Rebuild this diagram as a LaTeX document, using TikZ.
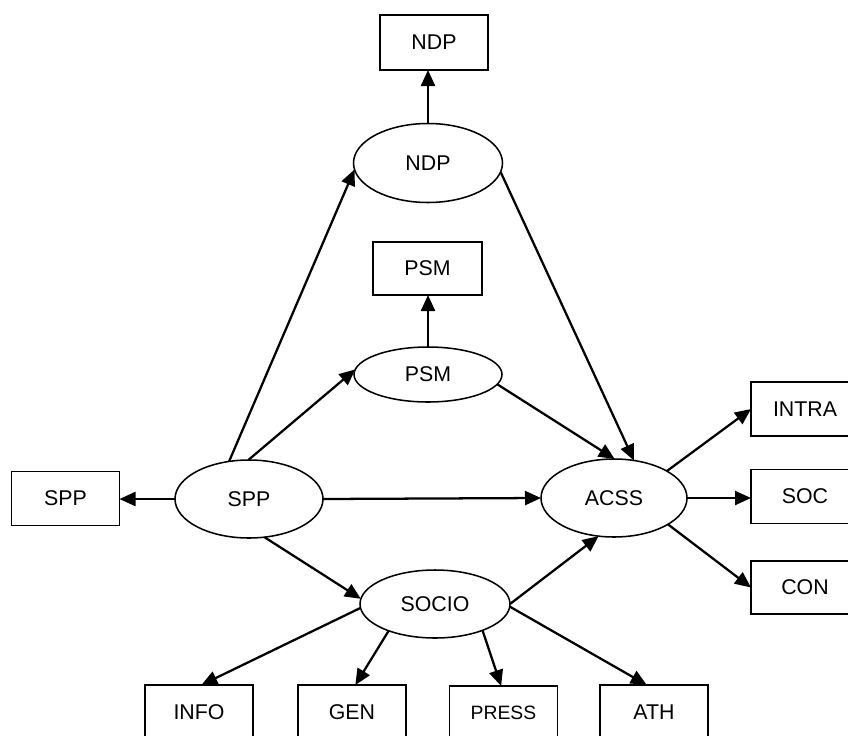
\documentclass[tikz,border=0pt]{standalone}
\usepackage{fontspec}
\setmainfont{Liberation Sans}
\usetikzlibrary{shapes.geometric,arrows.meta}
\begin{document}
\begin{tikzpicture}[x=0.75pt,y=-0.75pt,
  box/.style={draw, line width=1.35pt, rectangle, minimum width=81pt,
    minimum height=40.5pt, inner sep=0pt, outer sep=0pt,
    font=\fontsize{16}{18}\selectfont},
  var/.style={draw, line width=1.15pt, ellipse, inner sep=0pt, outer sep=0pt,
    font=\fontsize{16}{18}\selectfont},
  link/.style={line width=1.7pt, -{Triangle[length=12pt,width=10.5pt]}}]
\useasboundingbox (0,0) rectangle (848,735);
\clip (0,0) rectangle (848,735);

% latent variables
\node[var, minimum width=111.75pt, minimum height=59.25pt] (ndpE) at (428,163) {NDP};
\node[var, minimum width=111pt, minimum height=41.25pt] (psmE) at (428,374.5) {PSM};
\node[var, minimum width=111pt, minimum height=58.5pt] (spp) at (249,499) {SPP};
\node[var, minimum width=109.5pt, minimum height=58.5pt] (acss) at (614,498) {ACSS};
\node[var, minimum width=112.5pt, minimum height=51pt] (socio) at (435,604) {SOCIO};

% observed indicators
\node[box, minimum height=41.25pt] (ndpB) at (434,42.5) {NDP};
\node[box, minimum width=81.75pt, minimum height=39.75pt] (psmB) at (427.5,268.5) {PSM};
\node[box] (sppB) at (65.5,498.5) {SPP};
\node[box] (intra) at (805,409) {INTRA};
\node[box] (soc) at (805,496.5) {SOC};
\node[box, minimum height=39.75pt] (con) at (805,587.5) {CON};
\node[box] (info) at (199,712) {INFO};
\node[box] (gen) at (352,712) {GEN};
\node[box, font=\fontsize{14.5}{16}\selectfont] (press) at (503.5,713) {PRESS};
\node[box] (ath) at (654,712) {ATH};

% paths
\draw[link] (ndpE.north) -- (ndpE.north |- ndpB.south);
\draw[link] (psmE.north) -- (psmE.north |- psmB.south);
\draw[link] (spp.118) -- (ndpE.185);
\draw[link] (spp.91) -- (psmE.176);
\draw[link] (spp.west) -- (spp.west -| sppB.east);
\draw[link] (spp.east) -- (acss.west);
\draw[link] (spp.292) -- (socio.176);
\draw[link] (psmE.352) -- (acss.89);
\draw[link] (ndpE.353) -- (acss.62);
\draw[link] (socio.east) -- (acss.248);
\draw[link] (acss.27) -- (intra.west);
\draw[link] (acss.east) -- (acss.east -| soc.west);
\draw[link] (acss.334) -- (con.west);
\draw[link] (socio.183) -- (info.85);
\draw[link] (socio.210) -- (gen.83);
\draw[link] (socio.331) -- (press.95);
\draw[link] (socio.358) -- (ath.105);
\end{tikzpicture}
\end{document}
